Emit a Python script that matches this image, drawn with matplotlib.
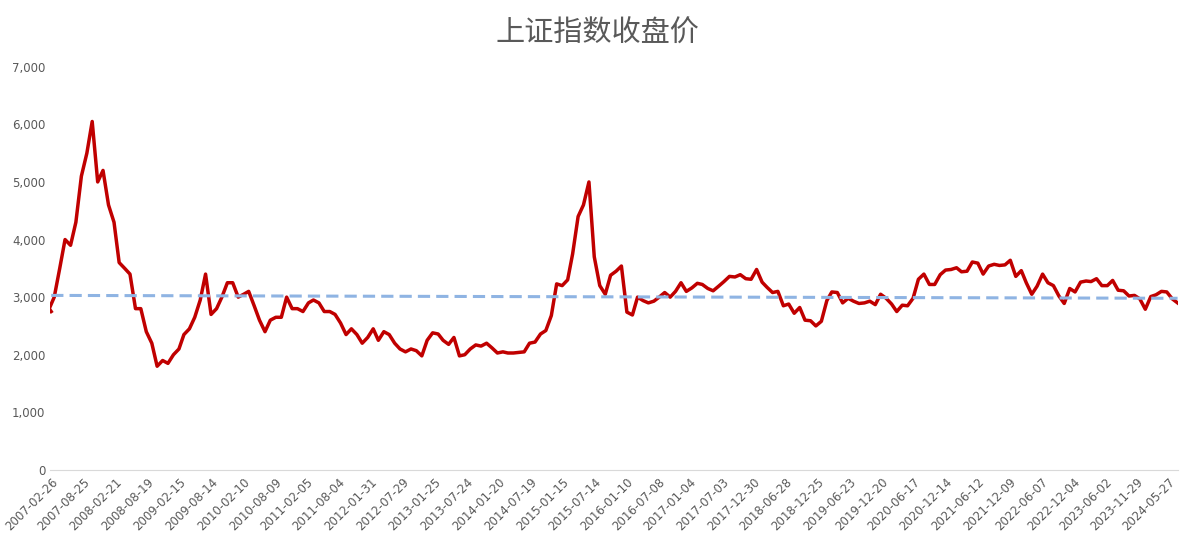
import numpy as np
import matplotlib
matplotlib.use("Agg")
import matplotlib.pyplot as plt
import matplotlib.dates as mdates
import pandas as pd
from matplotlib.ticker import FuncFormatter

start_month = "2007-02"
close_values = [
 2800,3000,3500,4000,3900,4300,5100,5500,6050,5000,5200,
 4600,4300,3600,3500,3400,2800,2800,2400,2200,1800,1900,1850,
 2000,2100,2350,2450,2650,2950,3400,2700,2800,3000,3250,3250,
 3000,3050,3100,2850,2600,2400,2600,2650,2650,3000,2800,2800,
 2750,2900,2950,2900,2750,2750,2700,2550,2350,2450,2350,2200,
 2300,2450,2250,2400,2350,2200,2100,2050,2100,2070,1980,2250,
 2380,2360,2250,2180,2300,1980,2000,2100,2170,2150,2200,2120,
 2030,2050,2030,2030,2040,2050,2200,2220,2360,2420,2680,3230,
 3200,3300,3750,4400,4600,5000,3700,3200,3050,3380,3450,3540,
 2740,2690,3000,2940,2900,2930,3000,3080,3000,3100,3250,3100,
 3160,3240,3220,3150,3110,3190,3270,3360,3350,3390,3320,3310,
 3480,3260,3170,3080,3100,2850,2880,2720,2820,2600,2590,2500,
 2580,2940,3090,3080,2900,2980,2930,2890,2900,2930,2870,3050,
 2980,2880,2750,2860,2850,2980,3310,3400,3220,3220,3390,3470,
 3480,3510,3440,3450,3610,3590,3400,3540,3570,3550,3560,3640,
 3360,3460,3250,3050,3190,3400,3250,3200,3020,2890,3150,3090,
 3260,3280,3270,3320,3200,3200,3290,3120,3110,3020,3030,2970,
 2790,3010,3040,3100,3090,2970,2900,
]
trend_values = [3030, 2980]
tick_labels = ["2007-02-26","2007-08-25","2008-02-21","2008-08-19","2009-02-15","2009-08-14",
 "2010-02-10","2010-08-09","2011-02-05","2011-08-04","2012-01-31","2012-07-29","2013-01-25",
 "2013-07-24","2014-01-20","2014-07-19","2015-01-15","2015-07-14","2016-01-10","2016-07-08",
 "2017-01-04","2017-07-03","2017-12-30","2018-06-28","2018-12-25","2019-06-23","2019-12-20",
 "2020-06-17","2020-12-14","2021-06-12","2021-12-09","2022-06-07","2022-12-04","2023-06-02",
 "2023-11-29","2024-05-27"]

dates = pd.date_range(start_month, periods=len(close_values), freq="MS") + pd.Timedelta(days=14)
dates = dates.insert(0, pd.Timestamp("2007-02-26"))
vals = [2750] + close_values

fig = plt.figure(figsize=(11.94, 5.34), dpi=100)
ax = fig.add_axes([0.042, 0.12, 0.945, 0.755])
ax.plot(dates, vals, color="#C00000", lw=2.5)
ax.plot([dates[0], dates[-1]], trend_values, color="#8FB4E3", lw=2.2, ls=(0, (4, 2)))

ax.set_ylim(0, 7000)
ax.set_yticks(range(0, 7001, 1000))
ax.yaxis.set_major_formatter(FuncFormatter(lambda v, p: f"{int(v):,}"))
tk = pd.to_datetime(tick_labels)
ax.set_xticks(tk)
ax.set_xticklabels(tick_labels, rotation=45, ha="right", rotation_mode="anchor")
ax.set_xlim(pd.Timestamp("2007-02-20"), pd.Timestamp("2024-07-20"))
ax.tick_params(axis="both", labelsize=8.5, colors="#595959", length=0)
ax.tick_params(axis="x", pad=4)
for s in ["top", "right", "left"]:
    ax.spines[s].set_visible(False)
ax.spines["bottom"].set_color("#D9D9D9")
fig.suptitle("上证指数收盘价", fontfamily="Noto Sans CJK SC", fontsize=21, color="#595959", y=0.965)
fig.savefig("out.png", dpi=100)
